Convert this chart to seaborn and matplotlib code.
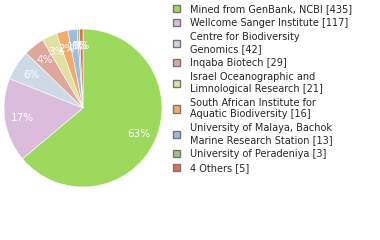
import matplotlib
matplotlib.use("Agg")
import matplotlib.pyplot as plt
import seaborn as sns

sns.set_theme(style="white")
plt.rcParams['font.family'] = ['DejaVu Sans']

labels = ["Mined from GenBank, NCBI [435]", "Wellcome Sanger Institute [117]",
          "Centre for Biodiversity\nGenomics [42]", "Inqaba Biotech [29]",
          "Israel Oceanographic and\nLimnological Research [21]",
          "South African Institute for\nAquatic Biodiversity [16]",
          "University of Malaya, Bachok\nMarine Research Station [13]",
          "University of Peradeniya [3]", "4 Others [5]"]
values = [435, 117, 42, 29, 21, 16, 13, 3, 5]
colors = ["#9cd95c", "#dcbcdc", "#cdd9e4", "#e0a69c", "#e0e0a0",
          "#f0ac6c", "#9cbce0", "#9cc47c", "#e07054"]

fig = plt.figure(figsize=(3.8, 2.4), dpi=100)
ax = fig.add_axes([4/380, 53/240, 158/380, 158/240])
wedges, texts, autotexts = ax.pie(
    values, colors=colors, startangle=90, counterclock=False,
    autopct=lambda p: f"{int(p)}%", pctdistance=0.78,
    wedgeprops=dict(linewidth=0.4, edgecolor="white"),
    textprops=dict(color="white", fontsize=7.5))
ax.set_xlim(-1, 1)
ax.set_ylim(-1, 1)
ax.set_aspect("equal")
ax.axis("off")

leg = fig.legend(wedges, labels, loc="upper left", bbox_to_anchor=(173/380, 1.0 - 4/240),
                 frameon=False, fontsize=7.0, handlelength=0.75, handleheight=0.75,
                 handletextpad=1.0, labelspacing=0.42, borderaxespad=0, borderpad=0)
for h in leg.legend_handles:
    h.set_edgecolor("#777777")
    h.set_linewidth(1.0)

fig.savefig("out.png", dpi=100)
